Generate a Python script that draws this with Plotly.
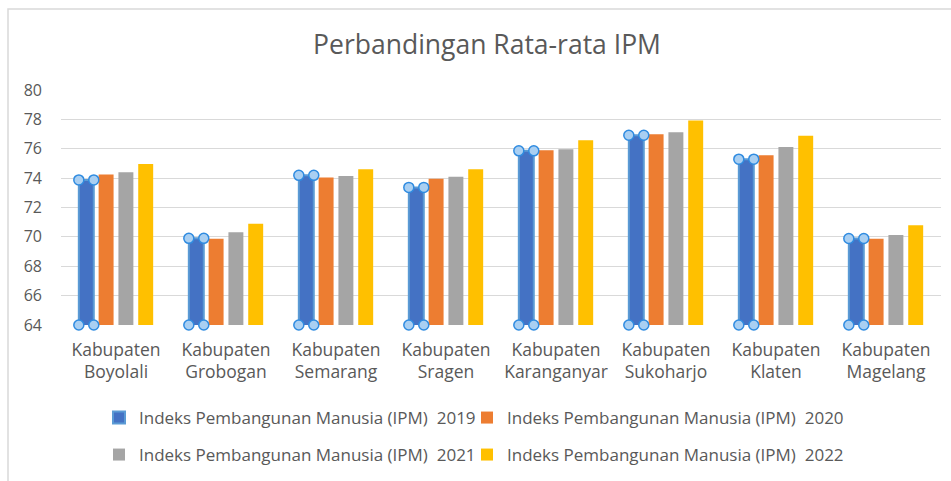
import plotly.graph_objects as go

categories = ["Boyolali", "Grobogan", "Semarang", "Sragen",
              "Karanganyar", "Sukoharjo", "Klaten", "Magelang"]
tick_labels = ["Kabupaten<br>" + c for c in categories]
years = ["2019", "2020", "2021", "2022"]
ipm_2019 = [73.88, 69.90, 74.19, 73.37, 75.86, 76.92, 75.29, 69.89]
ipm_2020 = [74.25, 69.87, 74.04, 73.95, 75.89, 76.98, 75.56, 69.87]
ipm_2021 = [74.40, 70.32, 74.14, 74.09, 75.96, 77.13, 76.12, 70.12]
ipm_2022 = [74.97, 70.90, 74.61, 74.61, 76.58, 77.92, 76.89, 70.80]
series = [ipm_2019, ipm_2020, ipm_2021, ipm_2022]
colors = ["#4472C4", "#ED7D31", "#A5A5A5", "#FFC000"]
y_min, y_max = 64, 80

W, H = 951, 481
ML, MR, MT, MB = 61, 10, 90, 156
grey = "#595959"
font = "Open Sans"

bar_w = 0.136
pitch = 0.18
xs = list(range(len(categories)))

fig = go.Figure()
legend_ids = ["legend", "legend2", "legend3", "legend4"]
for k, (vals, col, yr) in enumerate(zip(series, colors, years)):
    center = -1.5 * pitch + k * pitch
    fig.add_trace(go.Bar(
        x=xs, y=vals, width=bar_w, offset=center - bar_w / 2,
        marker=dict(color=col,
                    line=dict(color="#5B9BD5" if k == 0 else col,
                              width=2 if k == 0 else 0)),
        name="Indeks Pembangunan Manusia (IPM)\u00a0\u00a0" + yr,
        legend=legend_ids[k],
    ))

# selection handles on the first series (as in the reference screenshot)
off0 = -1.5 * pitch - bar_w / 2
hx, hy = [], []
for i, v in zip(xs, ipm_2019):
    for xx in (i + off0, i + off0 + bar_w):
        for yy in (v, y_min):
            hx.append(xx)
            hy.append(yy)
fig.add_trace(go.Scatter(
    x=hx, y=hy, mode="markers", showlegend=False, cliponaxis=False,
    hoverinfo="skip",
    marker=dict(size=10, color="#A9CFF2", line=dict(color="#2F8BE0", width=1.5)),
))

# outer chart frame
fig.add_shape(type="rect", xref="paper", yref="paper",
              x0=(8 - ML) / (W - ML - MR), x1=1.2,
              y0=-1, y1=1 + (MT - 9) / (H - MT - MB),
              line=dict(color="#D9D9D9", width=1.5), layer="below")

leg_pos = [(99, 418), (467, 418), (99, 455), (467, 455)]
layout_legends = {}
for lid, (px, py) in zip(legend_ids, leg_pos):
    layout_legends[lid] = dict(
        xref="container", yref="container",
        x=px / W, y=1 - py / H, xanchor="left", yanchor="middle",
        orientation="h", bgcolor="rgba(0,0,0,0)",
        font=dict(family=font, size=17, color=grey),
        itemclick=False, itemdoubleclick=False,
    )

fig.update_layout(
    width=W, height=H,
    margin=dict(l=ML, r=MR, t=MT, b=MB),
    paper_bgcolor="white", plot_bgcolor="white",
    barmode="overlay",
    title=dict(text="Perbandingan Rata-rata IPM", x=487 / W, xanchor="center",
               y=1 - 45 / H, yanchor="middle", xref="container", yref="container",
               font=dict(family=font, size=26.5, color=grey)),
    xaxis=dict(tickmode="array", tickvals=xs, ticktext=tick_labels,
               range=[-0.5, len(categories) - 0.5], showgrid=False,
               zeroline=False, showline=False, ticks="", ticklabelstandoff=12,
               tickfont=dict(family=font, size=17.5, color=grey)),
    yaxis=dict(range=[y_min, y_max], dtick=2, showgrid=True,
               gridcolor="#D9D9D9", gridwidth=1, zeroline=False,
               showline=False, ticks="", ticklabelstandoff=18,
               tickfont=dict(family=font, size=16, color=grey)),
    showlegend=True,
    **layout_legends,
)

fig.write_html("out.html", config={"displayModeBar": False},
               post_script="document.body.style.margin='0px';")
